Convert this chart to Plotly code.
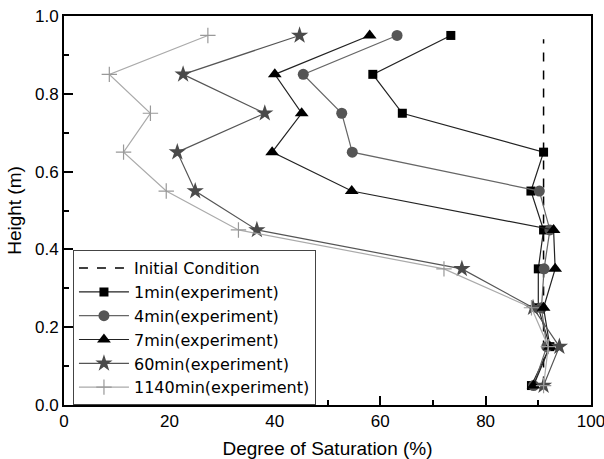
import plotly.graph_objects as go

heights = [0.95, 0.85, 0.75, 0.65, 0.55, 0.45, 0.35, 0.25, 0.15, 0.05]
sat_1min = [73.4, 58.6, 64.2, 91.0, 88.6, 91.0, 90.0, 90.0, 92.2, 88.7]
sat_4min = [63.2, 45.4, 52.7, 54.7, 90.2, 92.2, 91.1, 90.6, 91.6, 89.1]
sat_7min = [58.0, 40.0, 45.1, 39.5, 54.6, 92.9, 93.2, 91.0, 92.2, 89.1]
sat_60min = [44.7, 22.6, 38.1, 21.5, 24.9, 36.6, 75.5, 89.0, 94.0, 91.0]
sat_1140min = [27.3, 8.6, 16.4, 11.3, 19.4, 33.1, 72.1, 88.7, 91.9, 91.0]
init_x = [91.0, 91.0]
init_y = [0.05, 0.94]

FONT = "Liberation Sans, Arial"

fig = go.Figure()
fig.add_trace(go.Scatter(x=init_x, y=init_y, mode="lines", name="Initial Condition",
                         line=dict(color="black", width=1.5, dash="dash")))
series = [
    ("1min(experiment)", sat_1min, "square", "black", "#222222", 9),
    ("4min(experiment)", sat_4min, "circle", "#555555", "#666666", 11),
    ("7min(experiment)", sat_7min, "triangle-up", "black", "#222222", 12),
    ("60min(experiment)", sat_60min, "star", "#4a4a4a", "#555555", 13),
]
for name, xs, sym, mc, lc, sz in series:
    fig.add_trace(go.Scatter(x=xs, y=heights, mode="lines+markers", name=name,
                             line=dict(color=lc, width=1.2),
                             marker=dict(symbol=sym, size=sz, color=mc)))
fig.add_trace(go.Scatter(x=sat_1140min, y=heights, mode="lines+markers", name="1140min(experiment)",
                         line=dict(color="#aaaaaa", width=1.2),
                         marker=dict(symbol="cross-thin-open", size=11, color="#999999",
                                     line=dict(color="#999999", width=1.2))))

axis_common = dict(showline=True, linecolor="black", linewidth=2, mirror=True,
                   ticks="inside", ticklen=9, tickwidth=2, tickcolor="black",
                   showgrid=False, zeroline=False, automargin=False,
                   ticklabeloverflow="allow",
                   tickfont=dict(family=FONT, size=17, color="black"),
                   title_font=dict(family=FONT, size=19, color="black"))
fig.update_xaxes(range=[0, 100], tickvals=[0, 20, 40, 60, 80, 100],
                 minor=dict(tickvals=[10, 30, 50, 70, 90], ticks="inside", ticklen=5,
                            tickwidth=2, tickcolor="black"),
                 title_text="Degree of Saturation (%)", title_standoff=14, **axis_common)
fig.update_yaxes(range=[0, 1.0], tickvals=[0, 0.2, 0.4, 0.6, 0.8, 1.0],
                 ticktext=["0.0", "0.2", "0.4", "0.6", "0.8", "1.0"],
                 minor=dict(tickvals=[0.1, 0.3, 0.5, 0.7, 0.9], ticks="inside", ticklen=5,
                            tickwidth=2, tickcolor="black"),
                 title_text="Height (m)", title_standoff=8, **axis_common)
fig.update_layout(
    width=604, height=459,
    margin=dict(l=64, r=13, t=16, b=54),
    plot_bgcolor="white", paper_bgcolor="white",
    legend=dict(x=0.017, y=0.398, xanchor="left", yanchor="top",
                bgcolor="white", bordercolor="#444444", borderwidth=1,
                font=dict(family="DejaVu Sans", size=16, color="black"),
                tracegroupgap=0, itemwidth=50),
    showlegend=True,
)
fig.write_html("out.html")
